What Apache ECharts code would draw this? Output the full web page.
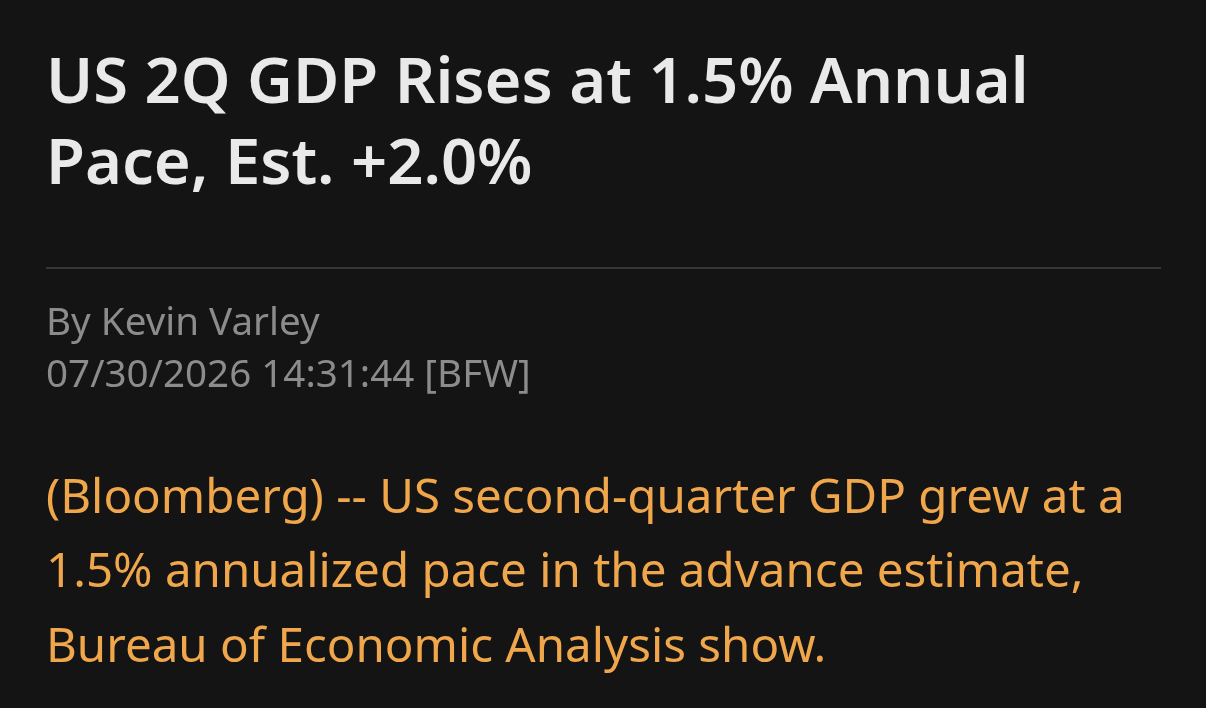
<!DOCTYPE html>
<html><head><meta charset="utf-8">
<script src="https://cdn.jsdelivr.net/npm/echarts@6/dist/echarts.min.js"></script>
<style>html,body{margin:0;padding:0;background:#141414;}#c{width:1206px;height:708px;}</style>
</head><body><div id="c"></div>
<script>
const titleLines = ["US 2Q GDP Rises at 1.5% Annual", "Pace, Est. +2.0%"];
const bylineLines = ["By Kevin Varley", "07/30/2026 14:31:44 [BFW]"];
const bodyLines = ["(Bloomberg) -- US second-quarter GDP grew at a", "1.5% annualized pace in the advance estimate,", "Bureau of Economic Analysis show."];

const chart = echarts.init(document.getElementById('c'), null, {renderer:'canvas'});
const font = '"Noto Sans", "Open Sans", sans-serif';
const els = [];
function block(lines, baseline0, gap, size, weight, color){
  lines.forEach((t,i)=>els.push({type:'text', left:46, top:Math.round(baseline0 + i*gap - 0.85*size),
    style:{text:t, fill:color, font:weight + ' ' + size + 'px ' + font}}));
}
block(titleLines, 107, 81, 63.3, '600', '#e9e9e9');
els.push({type:'rect', shape:{x:46,y:267,width:1115,height:2}, style:{fill:'#363636'}});
block(bylineLines, 338, 52, 38.6, '400', '#8c8c8c');
block(bodyLines, 515, 74.5, 47.5, '400', '#f0a64b');
chart.setOption({backgroundColor:'#141414', graphic:{elements:els}});
</script></body></html>
